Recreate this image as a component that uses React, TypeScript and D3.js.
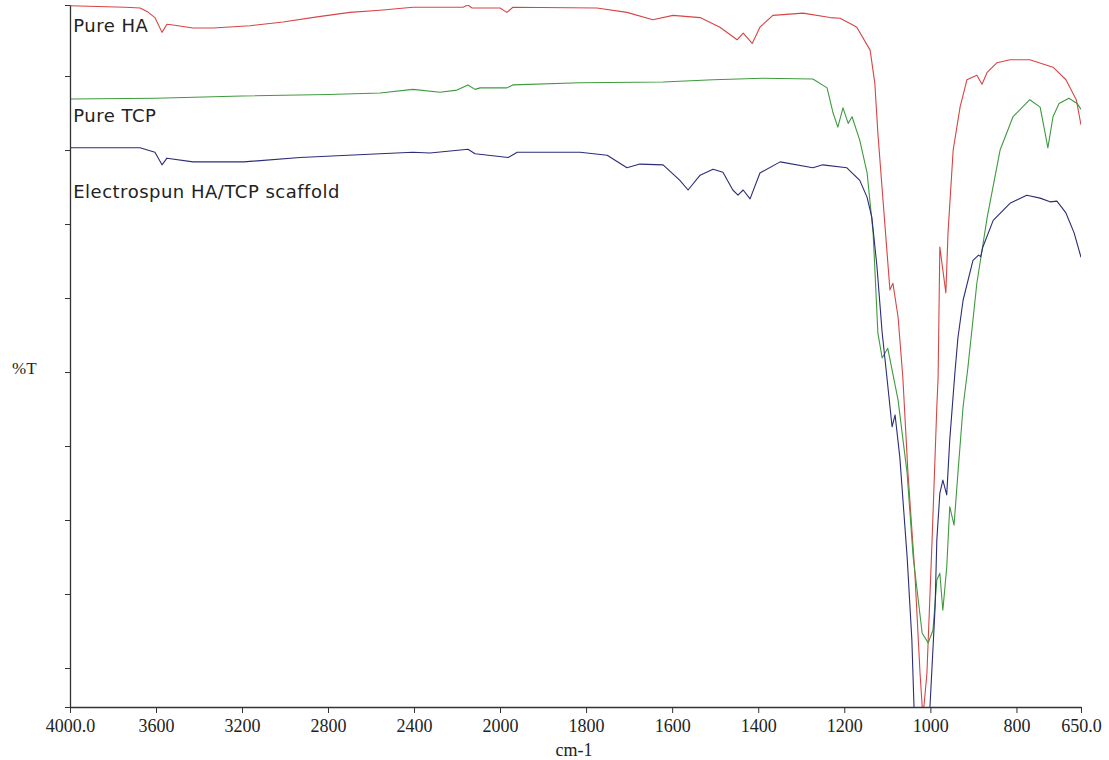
import React, { useEffect, useRef } from "react";
import * as d3 from "d3";

// wavenumber (cm-1) / %T pairs
const HA_WN = [4000, 3744, 3674, 3640, 3605, 3572, 3549, 3521, 3428, 3335, 3163, 3009, 2851, 2698, 2558, 2405, 2172, 2149, 2130, 2000, 1984, 1970, 1775, 1705, 1645, 1598, 1535, 1489, 1449, 1435, 1414, 1396, 1366, 1296, 1233, 1210, 1180, 1171, 1140, 1129, 1122, 1110, 1094, 1087, 1075, 1064, 1052, 1036, 1024, 1019, 1017, 1015, 1008, 996, 985, 982, 978, 964, 959, 947, 931, 915, 892, 880, 868, 845, 815, 769, 715, 685, 661, 650];
const HA_T = [99.5, 99.3, 99.2, 98.7, 97.9, 95.9, 97.0, 96.9, 96.5, 96.5, 96.8, 97.3, 98.0, 98.6, 98.9, 99.3, 99.3, 99.6, 99.2, 99.2, 98.6, 99.3, 99.2, 98.6, 97.6, 98.2, 97.9, 96.6, 94.9, 95.8, 94.4, 96.6, 98.2, 98.5, 97.9, 97.8, 96.9, 96.6, 93.5, 89.0, 82.3, 73.2, 61.1, 62.0, 57.4, 49.3, 36.3, 22.8, 9.3, 4.8, 4.5, 4.8, 9.3, 27.3, 45.3, 49.3, 66.9, 60.7, 68.8, 80.0, 85.8, 89.5, 90.1, 88.9, 90.5, 91.8, 92.2, 92.2, 91.2, 89.5, 86.8, 83.4];

const TCP_WN = [4000, 3600, 3200, 2800, 2558, 2405, 2279, 2200, 2149, 2116, 2093, 1984, 1970, 1814, 1621, 1505, 1389, 1273, 1240, 1226, 1215, 1203, 1191, 1182, 1164, 1147, 1133, 1122, 1112, 1099, 1075, 1054, 1040, 1019, 1005, 994, 985, 978, 971, 962, 955, 945, 936, 924, 913, 892, 868, 838, 808, 769, 745, 736, 727, 715, 701, 678, 659, 650];
const TCP_T = [86.9, 87.0, 87.3, 87.5, 87.7, 88.2, 87.8, 88.1, 88.8, 88.2, 88.4, 88.4, 88.8, 89.1, 89.2, 89.5, 89.7, 89.6, 88.4, 85.0, 83.1, 85.7, 83.6, 84.5, 81.3, 76.9, 68.8, 55.3, 51.9, 53.2, 46.2, 36.3, 25.0, 14.7, 13.4, 15.1, 21.9, 22.8, 17.8, 23.6, 31.8, 29.3, 36.3, 45.3, 50.5, 62.0, 70.9, 80.0, 84.5, 86.8, 85.8, 83.1, 80.3, 84.5, 86.3, 87.0, 86.3, 85.5];

const SCAF_WN = [4000, 3674, 3605, 3572, 3549, 3428, 3191, 2930, 2558, 2405, 2326, 2149, 2116, 1981, 1960, 1814, 1751, 1705, 1675, 1621, 1582, 1563, 1535, 1505, 1482, 1459, 1447, 1435, 1419, 1396, 1349, 1273, 1250, 1194, 1164, 1147, 1136, 1124, 1112, 1101, 1089, 1082, 1071, 1054, 1043, 1038, 1025, 1001, 989, 985, 978, 971, 962, 955, 943, 936, 924, 901, 888, 883, 878, 854, 815, 776, 745, 722, 706, 685, 666, 650];
const SCAF_T = [80.3, 80.3, 79.7, 78.0, 78.9, 78.4, 78.4, 79.0, 79.5, 79.7, 79.6, 80.1, 79.5, 79.0, 79.7, 79.7, 79.3, 77.6, 78.1, 78.0, 75.9, 74.6, 76.6, 77.4, 77.0, 74.6, 73.9, 74.6, 73.4, 76.9, 78.4, 77.6, 78.0, 77.6, 75.9, 73.6, 70.9, 64.2, 55.3, 49.3, 42.6, 44.2, 38.5, 25.0, 13.8, 4.7, 1.5, 4.7, 18.2, 27.3, 33.6, 35.4, 33.4, 40.8, 49.9, 54.6, 59.7, 65.1, 65.8, 65.6, 66.9, 70.5, 72.8, 73.9, 73.5, 73.0, 73.1, 71.5, 68.8, 65.5];

const SERIES_NAMES = ["Pure HA", "Pure TCP", "Electrospun HA/TCP scaffold"];
const SERIES_COLORS = ["#d64545", "#3f9a3f", "#2c2c78"];
// label anchor: wavenumber and %T of the text baseline
const LABEL_WN = [3985, 3985, 3985];
const LABEL_T = [96.0, 83.8, 73.5];

const X_TICKS = [4000, 3600, 3200, 2800, 2400, 2000, 1800, 1600, 1400, 1200, 1000, 800, 650];
const Y_TICKS = [10, 20, 30, 40, 50, 60, 70, 80, 90];
const Y_LABEL = "%T";
const X_LABEL = "cm-1";

export default function App() {
  const svgRef = useRef<SVGSVGElement>(null);
  const width = 1109;
  const height = 760;

  useEffect(() => {
    if (!svgRef.current) return;
    const svg = d3.select(svgRef.current);
    svg.selectAll("*").remove();

    // split axis: 4000-2000 compressed, 2000-650 expanded
    const x = d3.scaleLinear().domain([4000, 2000, 650]).range([70, 500, 1081]);
    const y = d3.scaleLinear().domain([4.73, 99.6]).range([707, 5]);

    svg.append("defs").append("clipPath").attr("id", "plot-clip")
      .append("rect")
      .attr("x", x(4000)).attr("y", y(99.6))
      .attr("width", x(650) - x(4000)).attr("height", y(4.73) - y(99.6));

    const data = [
      { wn: HA_WN, t: HA_T },
      { wn: TCP_WN, t: TCP_T },
      { wn: SCAF_WN, t: SCAF_T },
    ];

    const line = d3.line<[number, number]>()
      .x(d => x(d[0]))
      .y(d => y(d[1]));

    const g = svg.append("g").attr("clip-path", "url(#plot-clip)");
    data.forEach((s, i) => {
      const pts = s.wn.map((w, k) => [w, s.t[k]] as [number, number]);
      g.append("path")
        .datum(pts)
        .attr("fill", "none")
        .attr("stroke", SERIES_COLORS[i])
        .attr("stroke-width", 1.1)
        .attr("stroke-linejoin", "round")
        .attr("d", line);
    });

    // series labels
    SERIES_NAMES.forEach((name, i) => {
      svg.append("text")
        .attr("x", x(LABEL_WN[i]))
        .attr("y", y(LABEL_T[i]))
        .attr("font-family", "DejaVu Sans, Verdana, sans-serif")
        .attr("font-size", 18)
        .attr("letter-spacing", 0.5)
        .attr("fill", "#222")
        .text(name);
    });

    // axes
    const xAxis = svg.append("g")
      .attr("transform", `translate(0, ${y(4.73)})`)
      .call(d3.axisBottom(x)
        .tickValues(X_TICKS)
        .tickSizeInner(6)
        .tickSizeOuter(0)
        .tickFormat(d => (d === 4000 || d === 650 ? (d as number).toFixed(1) : String(d))));
    xAxis.select(".domain").attr("stroke", "#333").attr("stroke-width", 1.3);
    xAxis.selectAll(".tick line").attr("stroke", "#333");
    xAxis.selectAll(".tick text")
      .attr("font-family", "Liberation Serif, Times New Roman, serif")
      .attr("font-size", 18)
      .attr("fill", "#222")
      .attr("dy", "0.9em");

    const yAxis = svg.append("g")
      .attr("transform", `translate(${x(4000)}, 0)`)
      .call(d3.axisLeft(y)
        .tickValues([4.73, ...Y_TICKS, 99.6])
        .tickSizeInner(5)
        .tickSizeOuter(0)
        .tickFormat(() => ""));
    yAxis.select(".domain").attr("stroke", "#333").attr("stroke-width", 1.3);
    yAxis.selectAll(".tick line").attr("stroke", "#333");

    svg.append("text")
      .attr("x", 12)
      .attr("y", 374)
      .attr("font-family", "Liberation Serif, Times New Roman, serif")
      .attr("font-size", 17)
      .attr("fill", "#222")
      .text(Y_LABEL);

    svg.append("text")
      .attr("x", 574)
      .attr("y", 756)
      .attr("text-anchor", "middle")
      .attr("font-family", "Liberation Serif, Times New Roman, serif")
      .attr("font-size", 18)
      .attr("fill", "#222")
      .text(X_LABEL);
  }, []);

  return (
    <div style={{ position: "absolute", left: 0, top: 0, background: "#fff" }}>
      <svg ref={svgRef} width={width} height={height} style={{ display: "block" }} />
    </div>
  );
}
